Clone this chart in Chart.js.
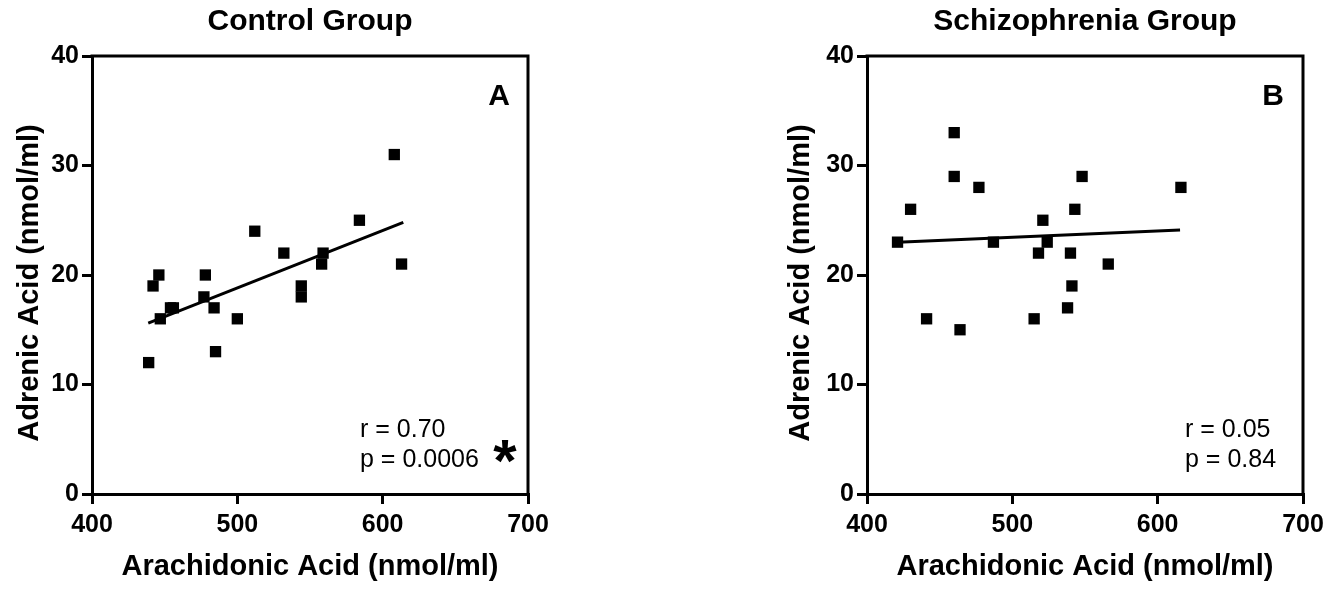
<!DOCTYPE html>
<html><head><meta charset="utf-8">
<script src="https://cdn.jsdelivr.net/npm/chart.js@4/dist/chart.umd.min.js"></script>
<style>
html,body{margin:0;padding:0;background:#fff;}
#wrap{position:relative;width:1342px;height:591px;background:#fff;}
.c{position:absolute;top:0;width:671px;height:591px;}
</style></head><body>
<div id="wrap">
<div class="c" style="left:0"><canvas id="cA" width="671" height="591"></canvas></div>
<div class="c" style="left:671px"><canvas id="cB" width="671" height="591"></canvas></div>
</div>
<script>
// ---- data ----
const xTicks = [400, 500, 600, 700];
const yTicks = [0, 10, 20, 30, 40];
const panelTitles = ['Control Group', 'Schizophrenia Group'];
const panelLetters = ['A', 'B'];
const xTitle = 'Arachidonic Acid (nmol/ml)';
const yTitle = 'Adrenic Acid (nmol/ml)';

const controlAA  = [439, 442, 446, 447, 454, 456, 477, 478, 484, 485, 500, 512, 532, 544, 544, 558, 559, 584, 608, 613];
const controlAdA = [12,  19,  20,  16,  17,  17,  18,  20,  17,  13,  16,  24,  22,  19,  18,  21,  22,  25,  31,  21];
const controlFitX = [438.7, 614.2];
const controlFitY = [15.6, 24.8];
const controlStats = ['r = 0.70', 'p = 0.0006'];
const controlMark = '*';

const schizAA  = [421, 430, 441, 460, 460, 464, 477, 487, 515, 518, 521, 524, 538, 540, 541, 543, 548, 566, 616];
const schizAdA = [23,  26,  16,  33,  29,  15,  28,  23,  16,  22,  25,  23,  17,  22,  19,  26,  29,  21,  28];
const schizFitX = [421.1, 615.4];
const schizFitY = [23.0, 24.1];
const schizStats = ['r = 0.05', 'p = 0.84'];

// ---- drawing ----
const FONT = '"Liberation Sans", Arial, Helvetica, sans-serif';
Chart.defaults.font.family = FONT;
Chart.defaults.color = '#000';

const annotPlugin = {
  id: 'annot',
  afterDraw(chart, args, o) {
    const {ctx, chartArea: a} = chart;
    ctx.save();
    // frame top & right
    ctx.strokeStyle = '#000';
    ctx.lineWidth = 3;
    ctx.lineCap = 'square';
    ctx.beginPath();
    ctx.moveTo(a.left, a.top);
    ctx.lineTo(a.right, a.top);
    ctx.lineTo(a.right, a.bottom);
    ctx.stroke();
    // panel letter
    ctx.fillStyle = '#000';
    ctx.textAlign = 'center';
    ctx.textBaseline = 'alphabetic';
    ctx.font = 'bold 30px ' + FONT;
    ctx.fillText(o.letter, a.right - o.letterDx, a.top + 49);
    // stats
    ctx.textAlign = 'left';
    ctx.font = '25px ' + FONT;
    ctx.fillText(o.stats[0], a.right - o.statsDx, a.top + 381);
    ctx.fillText(o.stats[1], a.right - o.statsDx, a.top + 411);
    if (o.mark) {
      ctx.textAlign = 'center';
      ctx.font = 'bold 60px ' + FONT;
      ctx.fillText(o.mark, a.right - 23, a.top + 425);
    }
    ctx.restore();
  }
};

function makeChart(id, title, xs, ys, fx, fy, yAxisWidth, padRight, yTitlePad, annot) {
  const pts = xs.map((x, i) => ({x: x, y: ys[i]}));
  const fit = fx.map((x, i) => ({x: x, y: fy[i]}));
  return new Chart(document.getElementById(id), {
    type: 'scatter',
    data: {datasets: [
      {data: pts, pointStyle: 'rect', pointRadius: 8, pointHoverRadius: 8,
       backgroundColor: '#000', borderColor: '#000', borderWidth: 0},
      {data: fit, showLine: true, pointRadius: 0, borderColor: '#000', borderWidth: 3, fill: false}
    ]},
    options: {
      responsive: false, animation: false,
      layout: {padding: {left: 0, right: padRight, top: 0, bottom: 0}},
      plugins: {
        legend: {display: false}, tooltip: {enabled: false},
        title: {display: true, fullSize: false, text: title, color: '#000',
                font: {family: FONT, size: 30, weight: 'bold'}, padding: {top: 4, bottom: 16}},
        annot: annot
      },
      scales: {
        x: {
          type: 'linear', position: 'bottom', min: xTicks[0], max: xTicks[xTicks.length - 1],
          afterBuildTicks: s => { s.ticks = xTicks.map(v => ({value: v})); },
          afterFit: s => { s.height = 97; },
          ticks: {font: {family: FONT, size: 25, weight: 'bold'}, color: '#000', padding: 6, maxRotation: 0, autoSkip: false},
          grid: {drawOnChartArea: false, drawTicks: true, tickLength: 10, tickWidth: 3, tickColor: '#000', color: '#000', lineWidth: 3},
          border: {display: true, color: '#000', width: 3},
          title: {display: true, text: xTitle, color: '#000', font: {family: FONT, size: 29, weight: 'bold'}, padding: {top: 0, bottom: 7}}
        },
        y: {
          type: 'linear', position: 'left', min: yTicks[0], max: yTicks[yTicks.length - 1],
          afterBuildTicks: s => { s.ticks = yTicks.map(v => ({value: v})); },
          afterFit: s => { s.width = yAxisWidth; },
          ticks: {font: {family: FONT, size: 25, weight: 'bold'}, color: '#000', padding: 3, autoSkip: false},
          grid: {drawOnChartArea: false, drawTicks: true, tickLength: 10, tickWidth: 3, tickColor: '#000', color: '#000', lineWidth: 3},
          border: {display: true, color: '#000', width: 3},
          title: {display: true, text: yTitle + '  ', color: '#000', font: {family: FONT, size: 29, weight: 'bold'}, padding: {top: yTitlePad + 1, bottom: 0}}
        }
      }
    },
    plugins: [annotPlugin]
  });
}

makeChart('cA', panelTitles[0], controlAA, controlAdA, controlFitX, controlFitY, 92, 143, 11.6,
  {letter: panelLetters[0], letterDx: 29, stats: controlStats, statsDx: 168, mark: controlMark});
makeChart('cB', panelTitles[1], schizAA, schizAdA, schizFitX, schizFitY, 196, 39, 111.6,
  {letter: panelLetters[1], letterDx: 30, stats: schizStats, statsDx: 118, mark: null});
</script>
</body></html>
